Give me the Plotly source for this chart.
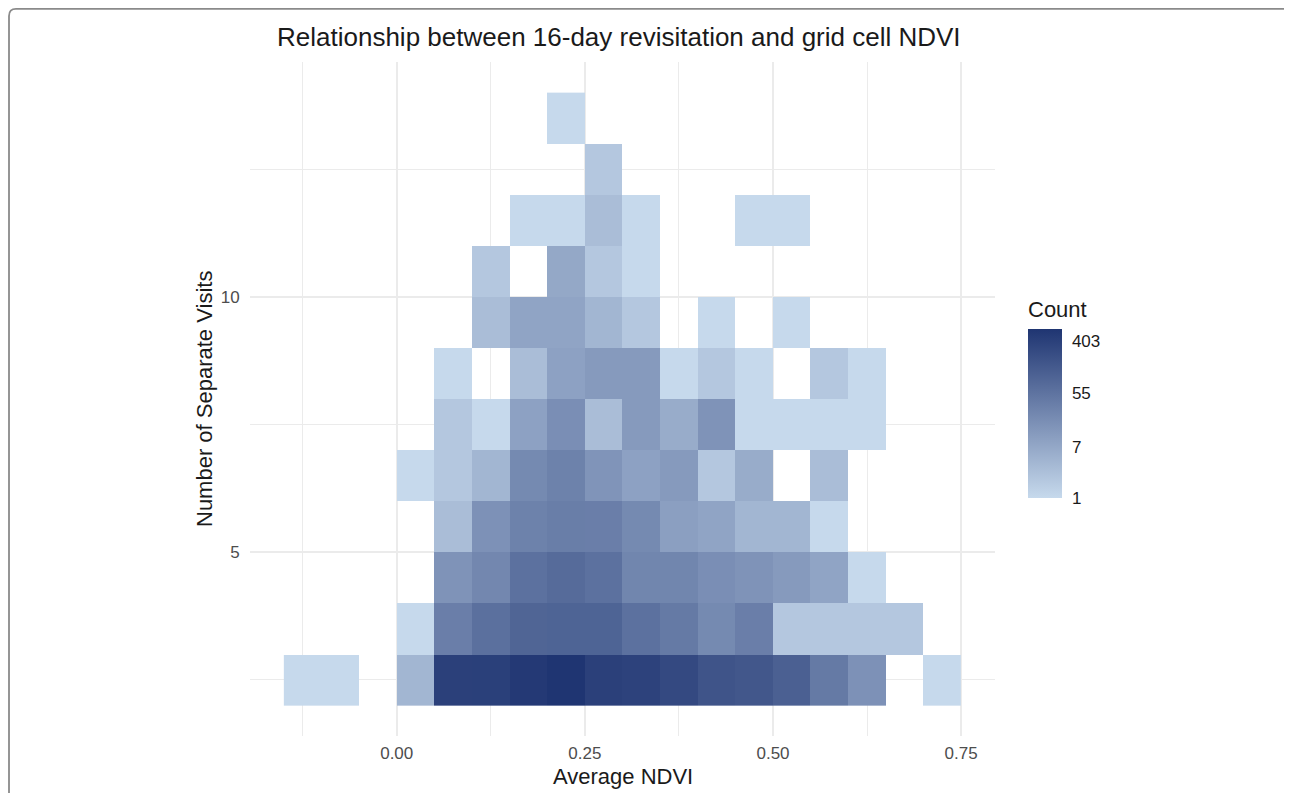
import numpy as np
import plotly.graph_objects as go

# NDVI bin centres (bin width 0.05)
ndvi_bins = [-0.125, -0.075, -0.025, 0.025, 0.075, 0.125, 0.175, 0.225, 0.275,
             0.325, 0.375, 0.425, 0.475, 0.525, 0.575, 0.625, 0.675, 0.725]
# visits bin centres (bin width 1)
visit_bins = [2.5, 3.5, 4.5, 5.5, 6.5, 7.5, 8.5, 9.5, 10.5, 11.5, 12.5, 13.5]

N = None
# counts per visits row (bottom to top), one value per NDVI bin
row_2 = [1, 1, N, 4, 416, 420, 545, 640, 416, 385, 293, 190, 170, 120, 43, 17, N, 1]
row_3 = [N, N, N, 1, 36, 64, 99, 103, 103, 60, 43, 23, 36, 2, 2, 2, 2, N]
row_4 = [N, N, N, N, 16, 25, 60, 78, 60, 27, 27, 19, 16, 12, 8, 1, N, N]
row_5 = [N, N, N, N, 3, 17, 31, 37, 36, 23, 10, 8, 4, 4, 1, N, N, N]
row_6 = [N, N, N, 1, 2, 4, 23, 31, 15, 9, 12, 2, 6, N, 3, N, N, N]
row_7 = [N, N, N, N, 2, 1, 9, 19, 3, 12, 6, 16, 1, 1, 1, 1, N, N]
row_8 = [N, N, N, N, 1, N, 3, 9, 12, 12, 1, 2, 1, N, 2, 1, N, N]
row_9 = [N, N, N, N, N, 3, 8, 8, 4, 2, N, 1, N, 1, N, N, N, N]
row_10 = [N, N, N, N, N, 2, N, 7, 2, 1, N, N, N, N, N, N, N, N]
row_11 = [N, N, N, N, N, N, 1, 1, 3, 1, N, N, 1, 1, N, N, N, N]
row_12 = [N, N, N, N, N, N, N, N, 2, N, N, N, N, N, N, N, N, N]
row_13 = [N, N, N, N, N, N, N, 1, N, N, N, N, N, N, N, N, N, N]

counts = [row_2, row_3, row_4, row_5, row_6, row_7, row_8, row_9,
          row_10, row_11, row_12, row_13]

count_ticks = [1, 7, 55, 403]
max_count = 650

z = [[np.nan if v is None else float(np.log(v)) for v in row] for row in counts]
text = [["" if v is None else str(v) for v in row] for row in counts]
zmax = float(np.log(max_count))

# page is shifted by the 8px body margin; layout below is in page pixels
OFF = 8
PW, PH = 1292, 793
W, H = PW - OFF, PH - OFF
L, R, T, B = 250, 995, 62, 736   # plot area in page pixels


def px(x):
    return (x - L) / (R - L)


def py(y):
    return (B - y) / (B - T)


FONT = "Liberation Sans, Arial, Helvetica, sans-serif"

# colourbar geometry (page pixels)
CB_LEFT, CB_W, CB_TOP, CB_H = 1028, 34, 329, 169
CB_BOTTOM = CB_TOP + CB_H

fig = go.Figure()
fig.add_trace(go.Heatmap(
    x=ndvi_bins, y=visit_bins, z=z, text=text,
    hovertemplate="NDVI %{x}<br>Visits %{y}<br>Count %{text}<extra></extra>",
    colorscale=[[0, "#c6d9ec"], [1, "#1f3572"]],
    zmin=0, zmax=zmax,
    xgap=0, ygap=0,
    colorbar=dict(
        tickvals=[float(np.log(v)) for v in count_ticks],
        ticktext=[str(v) for v in count_ticks],
        ticks="outside", ticklen=7, tickcolor="rgba(0,0,0,0)", tickwidth=1,
        outlinewidth=0,
        thickness=CB_W,
        lenmode="pixels", len=CB_H,
        x=px(CB_LEFT), xanchor="left", xpad=0,
        y=py(CB_TOP + CB_H / 2), yanchor="middle", ypad=0,
        tickfont=dict(size=17, color="#1a1a1a", family=FONT),
    ),
))

grid = "#ebebeb"
fig.update_xaxes(
    range=[-0.195, 0.795],
    tickvals=[0, 0.25, 0.5, 0.75], ticktext=["0.00", "0.25", "0.50", "0.75"],
    showgrid=True, gridcolor=grid, gridwidth=1.6,
    minor=dict(tickvals=[-0.125, 0.125, 0.375, 0.625], showgrid=True,
               gridcolor=grid, gridwidth=0.9),
    zeroline=False, showline=False,
    ticks="outside", ticklen=2, tickcolor="rgba(0,0,0,0)",
    tickfont=dict(size=17, color="#4d4d4d"),
)
fig.update_yaxes(
    range=[1.4, 14.6],
    tickvals=[5, 10], ticktext=["5", "10"],
    showgrid=True, gridcolor=grid, gridwidth=1.6,
    minor=dict(tickvals=[2.5, 7.5, 12.5], showgrid=True,
               gridcolor=grid, gridwidth=0.9),
    zeroline=False, showline=False,
    ticks="outside", ticklen=6, tickcolor="rgba(0,0,0,0)",
    tickfont=dict(size=17, color="#4d4d4d"),
)

annotations = [
    dict(text="Relationship between 16-day revisitation and grid cell NDVI",
         x=px(619), y=py(37), xref="paper", yref="paper",
         showarrow=False, xanchor="center", yanchor="middle",
         font=dict(size=26, color="#1a1a1a")),
    dict(text="Average NDVI", x=px(623), y=py(776), xref="paper", yref="paper",
         showarrow=False, xanchor="center", yanchor="middle",
         font=dict(size=22, color="#1a1a1a")),
    dict(text="Number of Separate Visits", x=px(204), y=py(399), xref="paper", yref="paper",
         showarrow=False, xanchor="center", yanchor="middle", textangle=-90,
         font=dict(size=22, color="#1a1a1a")),
    dict(text="Count", x=px(1026), y=py(309), xref="paper", yref="paper",
         showarrow=False, xanchor="left", yanchor="middle",
         font=dict(size=22, color="#1a1a1a")),
]

shapes = []
# white inside ticks on the colourbar, placed from the same log scale
tick_len = CB_W / 5
for v in count_ticks:
    yy = CB_BOTTOM - np.log(v) / zmax * CB_H
    for xa, xb in [(CB_LEFT, CB_LEFT + tick_len), (CB_LEFT + CB_W - tick_len, CB_LEFT + CB_W)]:
        shapes.append(dict(type="line", xref="paper", yref="paper",
                           x0=px(xa), x1=px(xb), y0=py(yy), y1=py(yy),
                           line=dict(color="rgba(255,255,255,0.8)", width=1.5), layer="above"))

# rounded figure frame
x0, x1, y0, y1, r = OFF + 1.0, 1290.5, 8.9, 820, 7
rx, ry = r / (R - L), r / (B - T)
path = (f"M {px(x0)},{py(y1)} L {px(x0)},{py(y0) - ry} "
        f"Q {px(x0)},{py(y0)} {px(x0) + rx},{py(y0)} "
        f"L {px(x1) - rx},{py(y0)} "
        f"Q {px(x1)},{py(y0)} {px(x1)},{py(y0) - ry} "
        f"L {px(x1)},{py(y1)}")
shapes.append(dict(type="path", path=path, xref="paper", yref="paper",
                   line=dict(color="#8a8a8a", width=1.8), layer="above"))

fig.update_layout(
    width=W, height=H,
    margin=dict(l=L - OFF, r=PW - R, t=T - OFF, b=PH - B, pad=0),
    plot_bgcolor="white", paper_bgcolor="white",
    font=dict(family=FONT),
    annotations=annotations, shapes=shapes,
    showlegend=False,
)

fig.write_html("out.html")
